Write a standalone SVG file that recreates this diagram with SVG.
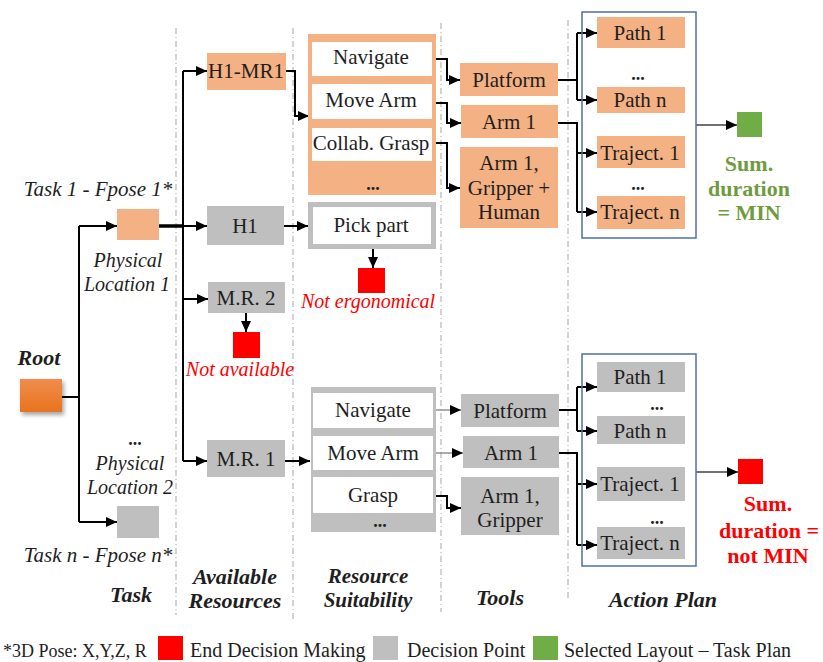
<svg xmlns="http://www.w3.org/2000/svg" width="823" height="662" viewBox="0 0 823 662">
<style>
text{font-family:"Liberation Serif","Times New Roman",serif;fill:#1e1e1e}
.t{font-size:21px;text-anchor:middle}
.i{font-size:20px;font-style:italic;text-anchor:middle}
.h{font-size:22px;font-style:italic;font-weight:bold;text-anchor:middle}
.d{font-size:18px;font-weight:bold;text-anchor:middle}
.lg{font-size:20px}
.or{fill:#F4B183}
.gr{fill:#BFBFBF}
.wh{fill:#FFFFFF}
.red{fill:#FF0000}
.grn{fill:#70AD47}
.sep{stroke:#A6A6A6;stroke-width:1;stroke-dasharray:6,3,1,3;fill:none}
.c{stroke:#000;stroke-width:2;fill:none}
.cg{stroke:#7F7F7F;stroke-width:1.3;fill:none}
.blue{fill:none;stroke:#4F6FAD;stroke-width:1.5}
</style>
<defs>
<marker id="a" markerUnits="userSpaceOnUse" markerWidth="11" markerHeight="10" refX="11" refY="5" orient="auto">
<path d="M0,0 L11,5 L0,10 z" fill="#000"/>
</marker>
<linearGradient id="rg" x1="0" y1="0" x2="0" y2="1">
<stop offset="0" stop-color="#F08D4E"/>
<stop offset="1" stop-color="#E8731E"/>
</linearGradient>
<filter id="sh" x="-30%" y="-30%" width="170%" height="170%">
<feDropShadow dx="2" dy="3" stdDeviation="2" flood-color="#000" flood-opacity="0.35"/>
</filter>
</defs>

<g id="separators">
<line class="sep" x1="176" y1="28" x2="176" y2="615"/>
<line class="sep" x1="293" y1="28" x2="293" y2="620"/>
<line class="sep" x1="441" y1="23" x2="441" y2="612"/>
<line class="sep" x1="568" y1="20" x2="568" y2="600"/>
</g>

<g id="connectors">
<polyline class="c" points="62,397 79,397"/>
<polyline class="c" points="79,226 79,522"/>
<polyline class="c" points="79,226 117,226" marker-end="url(#a)"/>
<polyline class="c" points="79,522 117,522" marker-end="url(#a)"/>
<line x1="159" y1="226" x2="184" y2="226" stroke="#000" stroke-width="3.5"/>
<polyline class="c" points="183,71 183,461"/>
<polyline class="c" points="183,71 207,71" marker-end="url(#a)"/>
<polyline class="c" points="183,226 207,226" marker-end="url(#a)"/>
<polyline class="c" points="183,299 208,299" marker-end="url(#a)"/>
<polyline class="c" points="183,461 207,461" marker-end="url(#a)"/>
<polyline class="c" points="246,313 246,332" marker-end="url(#a)"/>
<polyline class="c" points="286,71 295,71 295,116 309,116" marker-end="url(#a)"/>
<polyline class="c" points="284,226 308,226" marker-end="url(#a)"/>
<polyline class="c" points="373,249 373,268" marker-end="url(#a)"/>
<polyline class="c" points="285,461 310,461" marker-end="url(#a)"/>
<polyline class="c" points="433,59 447,59 447,80 460,80" marker-end="url(#a)"/>
<polyline class="c" points="433,103 447,103 447,123 461,123" marker-end="url(#a)"/>
<polyline class="c" points="433,143 447,143 447,188 460,188" marker-end="url(#a)"/>
<polyline class="cg" points="433,410 461,410" marker-end="url(#a)"/>
<polyline class="cg" points="433,453 463,453" marker-end="url(#a)"/>
<polyline class="c" points="433,496 447,496 447,508 461,508" marker-end="url(#a)"/>
<polyline class="c" points="558,80 577,80"/>
<polyline class="c" points="577,33 577,100"/>
<polyline class="c" points="577,33 597,33" marker-end="url(#a)"/>
<polyline class="c" points="577,100 597,100" marker-end="url(#a)"/>
<polyline class="c" points="558,123 577,123 577,212"/>
<polyline class="c" points="577,153 597,153" marker-end="url(#a)"/>
<polyline class="c" points="577,212 597,212" marker-end="url(#a)"/>
<polyline class="c" points="559,410 577,410"/>
<polyline class="c" points="577,387 577,431"/>
<polyline class="c" points="577,387 597,387" marker-end="url(#a)"/>
<polyline class="c" points="577,431 597,431" marker-end="url(#a)"/>
<polyline class="c" points="559,453 577,453 577,545"/>
<polyline class="c" points="577,484 597,484" marker-end="url(#a)"/>
<polyline class="c" points="577,545 597,545" marker-end="url(#a)"/>
<polyline stroke="#404040" stroke-width="1.5" fill="none" points="696,125 737,125" marker-end="url(#a)"/>
<polyline stroke="#404040" stroke-width="1.5" fill="none" points="696,472 738,472" marker-end="url(#a)"/>
</g>

<g id="root">
<rect x="20" y="379" width="42" height="33" fill="url(#rg)" filter="url(#sh)"/>
<text class="h" x="39" y="365">Root</text>
</g>

<g id="task1">
<rect class="or" x="117" y="209" width="42" height="31"/>
<text class="i" x="98" y="196" style="font-size:21px">Task 1 - Fpose 1*</text>
<text class="i" x="128" y="267">Physical</text>
<text class="i" x="127" y="291">Location 1</text>
</g>

<g id="taskn">
<rect class="gr" x="117" y="506" width="42" height="32"/>
<text class="d" x="135" y="445">...</text>
<text class="i" x="130" y="470">Physical</text>
<text class="i" x="130" y="494">Location 2</text>
<text class="i" x="98" y="562" style="font-size:21px">Task n - Fpose n*</text>
</g>

<g id="h1mr1">
<rect class="or" x="207" y="53" width="79" height="37"/>
<text class="t" x="246" y="78">H1-MR1</text>
</g>

<g id="h1">
<rect class="gr" x="207" y="206" width="77" height="39"/>
<text class="t" x="245" y="233">H1</text>
</g>

<g id="mr2">
<rect class="gr" x="208" y="282" width="77" height="31"/>
<text class="t" x="246" y="305">M.R. 2</text>
<rect class="red" x="233" y="332" width="27" height="26"/>
<text class="i" x="240" y="376" style="fill:#FF0000">Not available</text>
</g>

<g id="mr1">
<rect class="gr" x="207" y="440" width="78" height="37"/>
<text class="t" x="246" y="466">M.R. 1</text>
</g>

<g id="suit-top">
<rect class="or" x="308" y="34" width="128" height="161"/>
<rect class="wh" x="312" y="42" width="120" height="34"/>
<text class="t" x="371" y="64">Navigate</text>
<rect class="wh" x="312" y="84" width="120" height="35"/>
<text class="t" x="371" y="107">Move Arm</text>
<rect class="wh" x="312" y="128" width="120" height="33"/>
<text class="t" x="371" y="150">Collab. Grasp</text>
<text class="d" x="373" y="190">...</text>
</g>

<g id="pickpart">
<rect x="310.5" y="204.5" width="123" height="42" fill="#fff" stroke="#BFBFBF" stroke-width="5"/>
<text class="t" x="371" y="232">Pick part</text>
<rect class="red" x="358" y="268" width="27" height="25"/>
<text class="i" x="368" y="308" style="fill:#FF0000">Not ergonomical</text>
</g>

<g id="suit-bottom">
<rect class="gr" x="311" y="387" width="125" height="145"/>
<rect class="wh" x="313" y="393" width="120" height="35"/>
<text class="t" x="373" y="417">Navigate</text>
<rect class="wh" x="313" y="436" width="120" height="34"/>
<text class="t" x="373" y="460">Move Arm</text>
<rect class="wh" x="313" y="477" width="120" height="36"/>
<text class="t" x="373" y="502">Grasp</text>
<text class="d" x="380" y="527">...</text>
</g>

<g id="tools-top">
<rect class="or" x="460" y="63" width="98" height="33"/>
<text class="t" x="509" y="87">Platform</text>
<rect class="or" x="461" y="105" width="97" height="33"/>
<text class="t" x="509" y="129">Arm 1</text>
<rect class="or" x="460" y="147" width="98" height="81"/>
<text class="t" x="509" y="170">Arm 1,</text>
<text class="t" x="509" y="195">Gripper +</text>
<text class="t" x="509" y="219">Human</text>
</g>

<g id="tools-bottom">
<rect class="gr" x="461" y="394" width="98" height="33"/>
<text class="t" x="510" y="418">Platform</text>
<rect class="gr" x="463" y="436" width="96" height="32"/>
<text class="t" x="511" y="460">Arm 1</text>
<rect class="gr" x="461" y="477" width="98" height="58"/>
<text class="t" x="510" y="503">Arm 1,</text>
<text class="t" x="510" y="527">Gripper</text>
</g>

<g id="plan-top">
<rect class="blue" x="582" y="12" width="114" height="226"/>
<rect class="or" x="597" y="17" width="88" height="31"/>
<text class="t" x="640" y="40">Path 1</text>
<text class="d" x="638" y="80">...</text>
<rect class="or" x="597" y="87" width="88" height="26"/>
<text class="t" x="640" y="107">Path n</text>
<rect class="or" x="597" y="136" width="88" height="32"/>
<text class="t" x="640" y="160">Traject. 1</text>
<text class="d" x="638" y="190">...</text>
<rect class="or" x="597" y="196" width="88" height="33"/>
<text class="t" x="640" y="219">Traject. n</text>
</g>

<g id="result-top">
<rect class="grn" x="737" y="112" width="25" height="25"/>
<text x="749" y="171" style="font-size:22px;font-weight:bold;text-anchor:middle;fill:#6E9B3E">Sum.</text>
<text x="749" y="196" style="font-size:22px;font-weight:bold;text-anchor:middle;fill:#6E9B3E">duration</text>
<text x="749" y="220" style="font-size:22px;font-weight:bold;text-anchor:middle;fill:#6E9B3E">=  MIN</text>
</g>

<g id="plan-bottom">
<rect class="blue" x="582" y="354" width="114" height="212"/>
<rect class="gr" x="597" y="362" width="88" height="30"/>
<text class="t" x="640" y="384">Path 1</text>
<text class="d" x="657" y="410">...</text>
<rect class="gr" x="597" y="416" width="88" height="28"/>
<text class="t" x="640" y="438">Path n</text>
<rect class="gr" x="597" y="467" width="88" height="34"/>
<text class="t" x="640" y="491">Traject. 1</text>
<text class="d" x="657" y="524">...</text>
<rect class="gr" x="597" y="527" width="88" height="32"/>
<text class="t" x="640" y="550">Traject. n</text>
</g>

<g id="result-bottom">
<rect class="red" x="738" y="459" width="25" height="25"/>
<text x="768" y="511" style="font-size:22px;font-weight:bold;text-anchor:middle;fill:#FF0000">Sum.</text>
<text x="769" y="538" style="font-size:22px;font-weight:bold;text-anchor:middle;fill:#FF0000">duration =</text>
<text x="768" y="563" style="font-size:22px;font-weight:bold;text-anchor:middle;fill:#FF0000">not MIN</text>
</g>

<g id="headers">
<text class="h" x="131" y="602">Task</text>
<text class="h" x="235" y="584">Available</text>
<text class="h" x="235" y="608">Resources</text>
<text class="h" x="368" y="583" style="font-size:21px">Resource</text>
<text class="h" x="368" y="607" style="font-size:21px">Suitability</text>
<text class="h" x="500" y="605">Tools</text>
<text class="h" x="663" y="607">Action Plan</text>
</g>

<g id="legend">
<text class="lg" x="3" y="657" style="font-size:18px">*3D Pose: X,Y,Z, R</text>
<rect class="red" x="158" y="636" width="25" height="24"/>
<text class="lg" x="190" y="657">End Decision Making</text>
<rect class="gr" x="373" y="636" width="25" height="24"/>
<text class="lg" x="407" y="657">Decision Point</text>
<rect class="grn" x="533" y="636" width="25" height="24"/>
<text class="lg" x="564" y="657">Selected Layout – Task Plan</text>
</g>
</svg>
